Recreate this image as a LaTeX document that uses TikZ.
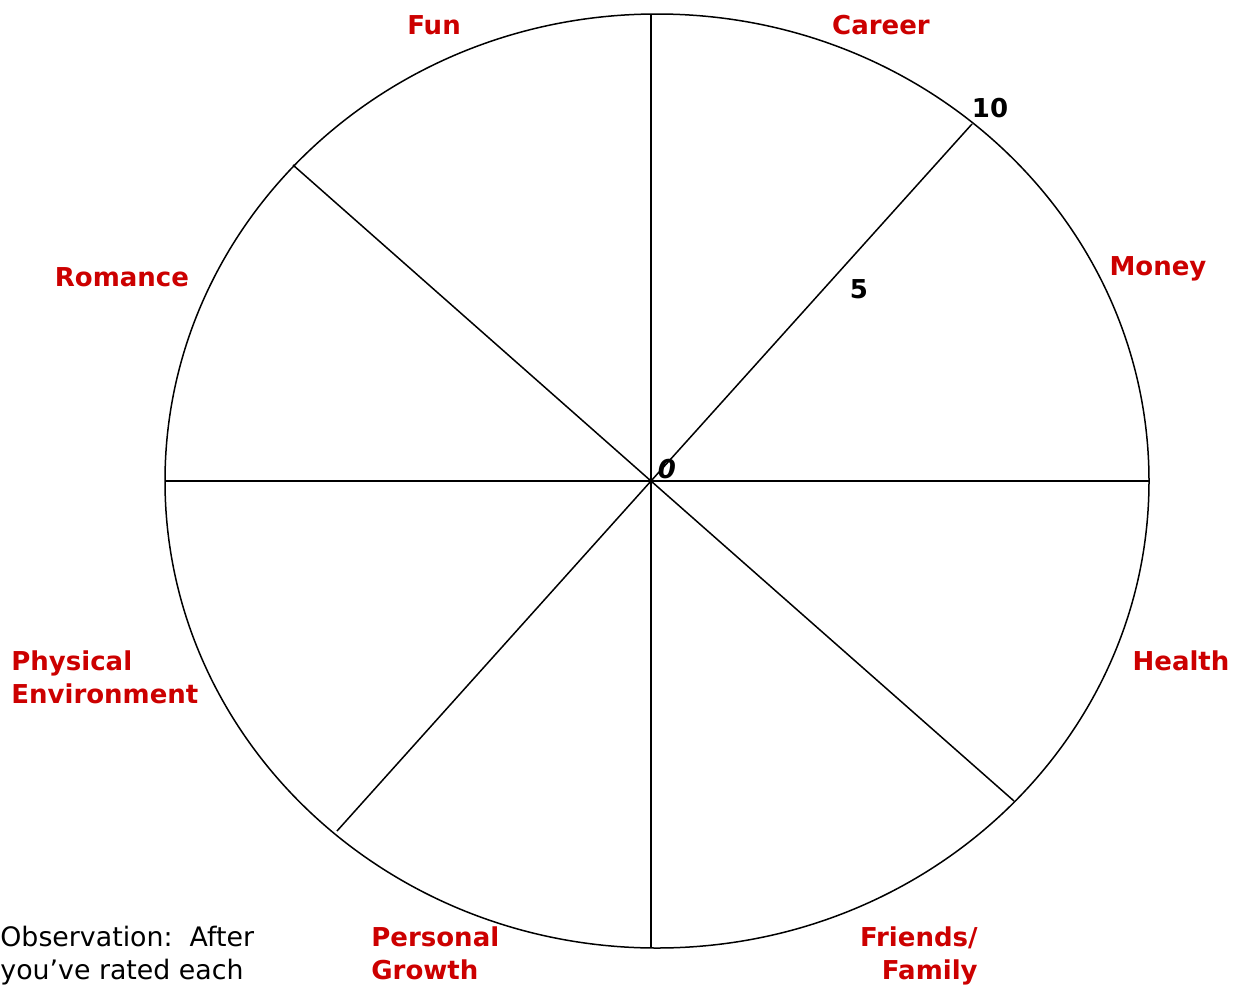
\documentclass[tikz,border=0pt]{standalone}
\usepackage{fontspec}
\setmainfont{DejaVu Sans}
\definecolor{lblred}{HTML}{CC0000}
\begin{document}
\begin{tikzpicture}[x=0.5pt,y=-0.5pt,
  lbl/.style={font=\fontsize{13}{16.5}\selectfont\bfseries, text=lblred, inner sep=0pt},
  num/.style={font=\fontsize{13}{16.5}\selectfont\bfseries, inner sep=0pt},
  note/.style={font=\fontsize{13.4}{16.5}\selectfont, inner sep=0pt, align=left, anchor=base west},
  spoke/.style={line width=0.75pt}]
\useasboundingbox (0,0) rectangle (1238,986);
\coordinate (c) at (651,481);
\coordinate (ec) at (657,481);
\coordinate (pT) at (651,14);
\coordinate (pB) at (651,948);
\coordinate (pL) at (165,481);
\coordinate (pR) at (1149,481);
\coordinate (pNE) at (972,124);
\coordinate (pNW) at (293,165);
\coordinate (pSW) at (337,831);
\coordinate (pSE) at (1014,801);
\draw[spoke] (ec) ellipse [x radius=246pt, y radius=233.5pt];
\draw[spoke] (pT) -- (pB);
\draw[spoke] (pL) -- (pR);
\draw[spoke] (c) -- (pNE);
\draw[spoke] (c) -- (pNW);
\draw[spoke] (c) -- (pSW);
\draw[spoke] (c) -- (pSE);
\node[lbl, anchor=base] (fun) at (434,34.5) {Fun};
\node[lbl, anchor=base] (career) at (881,34.5) {Career};
\node[lbl, anchor=base] (money) at (1158,275) {Money};
\node[lbl, anchor=base] (romance) at (122,286.5) {Romance};
\node[lbl, anchor=base] (health) at (1181,670.5) {Health};
\node[lbl, anchor=base west, align=left] (phys) at (11,703.5) {Physical\\Environment};
\node[lbl, anchor=base west, align=left] (pers) at (371,979.5) {Personal\\Growth};
\node[lbl, anchor=base east, align=right] (friends) at (978,979.5) {Friends/\\Family};
\node[num, anchor=base] (ten) at (990,117.5) {10};
\node[num, anchor=base] (five) at (859,298.5) {5};
\node[num, anchor=base] (zero) at (667,478.5) {\itshape 0};
\node[note] (obs) at (0,979.5) {Observation:\ \ After\\you’ve rated each};
\end{tikzpicture}
\end{document}
